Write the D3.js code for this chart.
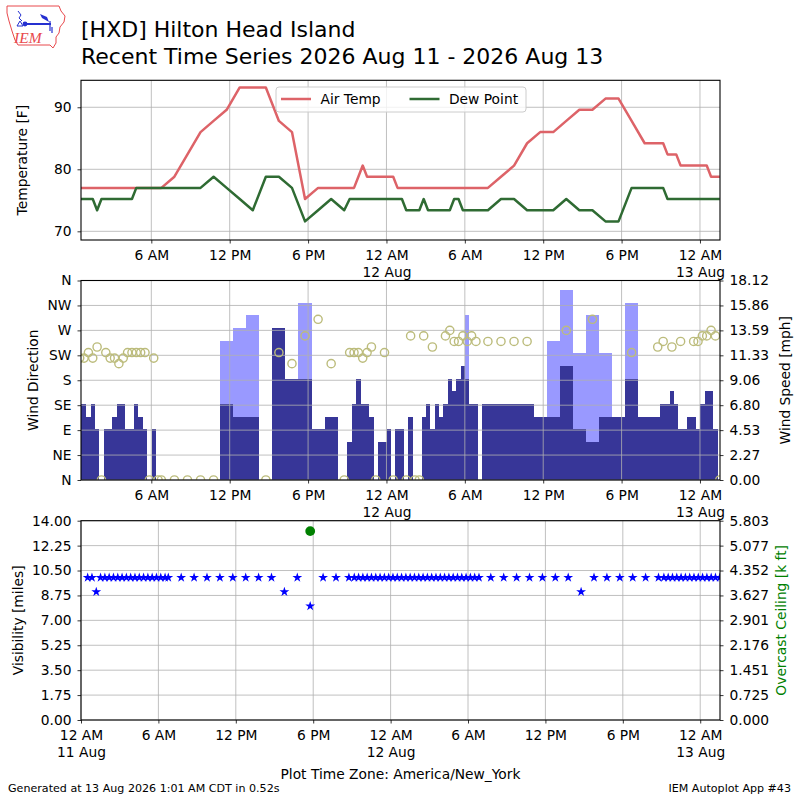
<!DOCTYPE html>
<html>
<head>
<meta charset="utf-8">
<script src="https://cdn.jsdelivr.net/npm/d3@7"></script>
<style>
  body { margin: 0; background: #fff; }
  svg text { font-family: "DejaVu Sans", sans-serif; }
</style>
</head>
<body>
<svg id="chart" width="800" height="800"></svg>
<script>
const _ = null;

// observation times, "day HH:MM" in August 2026, America/New_York
const obsTime = [
  // 11 Aug
  '11 00:31', '11 00:51', '11 01:11', '11 01:31', '11 01:51', '11 02:11', '11 02:31', '11 02:51',
  '11 03:11', '11 03:31', '11 03:51', '11 04:11', '11 04:31', '11 04:51', '11 05:11', '11 05:31',
  '11 05:51', '11 06:11', '11 06:31', '11 06:46', '11 07:46', '11 08:46', '11 09:46', '11 10:46',
  '11 11:46', '11 12:46', '11 13:46', '11 14:46', '11 15:46', '11 16:46', '11 17:46', '11 18:46',
  '11 19:46', '11 20:46', '11 21:11', '11 21:31', '11 21:51', '11 22:11', '11 22:31', '11 22:51',
  '11 23:11', '11 23:31', '11 23:51',
  // 12 Aug
  '12 00:11', '12 00:31', '12 00:51', '12 01:11', '12 01:31', '12 01:51', '12 02:11', '12 02:31',
  '12 02:51', '12 03:11', '12 03:31', '12 03:51', '12 04:11', '12 04:31', '12 04:51', '12 05:11',
  '12 05:31', '12 05:51', '12 06:11', '12 06:31', '12 06:51', '12 07:46', '12 08:46', '12 09:46',
  '12 10:46', '12 11:46', '12 12:46', '12 13:46', '12 14:46', '12 15:46', '12 16:46', '12 17:46',
  '12 18:46', '12 19:46', '12 20:46', '12 21:11', '12 21:31', '12 21:51', '12 22:11', '12 22:31',
  '12 22:51', '12 23:11', '12 23:31', '12 23:51',
  // 13 Aug
  '13 00:11', '13 00:31', '13 00:51', '13 01:11', '13 01:31'
];

// air temperature [F]
const airTemp = [
  77, 77, 77, 77, 77, 77, 77, 77,
  77, 77, 77, 77, 77, 77, 77, 77,
  77, 77, 77, 77, 78.8, 82.4, 86, 87.8,
  89.6, 93.2, 93.2, 93.2, 87.8, 86, 75.2, 77,
  77, 77, 77, 77, 78.8, 80.6, 78.8, 78.8,
  78.8, 78.8, 78.8,
  78.8, 78.8, 77, 77, 77, 77, 77, 77,
  77, 77, 77, 77, 77, 77, 77, 77,
  77, 77, 77, 77, 77, 77, 78.8, 80.6,
  84.2, 86, 86, 87.8, 89.6, 89.6, 91.4, 91.4,
  87.8, 84.2, 84.2, 84.2, 82.4, 82.4, 82.4, 80.6,
  80.6, 80.6, 80.6, 80.6,
  80.6, 80.6, 78.8, 78.8, 78.8
];

// dew point [F]
const dewPoint = [
  75.2, 75.2, 75.2, 75.2, 73.4, 75.2, 75.2, 75.2,
  75.2, 75.2, 75.2, 75.2, 75.2, 77, 77, 77,
  77, 77, 77, 77, 77, 77, 77, 78.8,
  77, 75.2, 73.4, 78.8, 78.8, 77, 71.6, 73.4,
  75.2, 73.4, 75.2, 75.2, 75.2, 75.2, 75.2, 75.2,
  75.2, 75.2, 75.2,
  75.2, 75.2, 75.2, 75.2, 73.4, 73.4, 73.4, 73.4,
  75.2, 73.4, 73.4, 73.4, 73.4, 73.4, 73.4, 75.2,
  75.2, 73.4, 73.4, 73.4, 73.4, 73.4, 75.2, 75.2,
  73.4, 73.4, 73.4, 75.2, 73.4, 73.4, 71.6, 71.6,
  77, 77, 77, 77, 75.2, 75.2, 75.2, 75.2,
  75.2, 75.2, 75.2, 75.2,
  75.2, 75.2, 75.2, 75.2, 75.2
];

// wind speed [kt]
const windSpeed = [
  6, 6, 5, 6, 4, 0, 4, 4,
  5, 6, 6, 4, 4, 6, 5, 4,
  0, 4, 0, 0, 0, 0, 0, 0,
  6, 5, 5, 0, 12, 8, 8, 4,
  5, 0, 3, 6, 8, 6, 6, 5,
  0, 3, 3,
  4, 0, 4, 4, 0, 5, 0, 0,
  5, 6, 4, 6, 5, 6, 8, 7,
  8, 9, 8, 6, 6, 6, 6, 6,
  6, 5, 5, 9, 4, 3, 5, 5,
  8, 5, 5, 6, 6, 7, 6, 4,
  4, 5, 5, 4,
  6, 7, 7, 4, 0
];

// wind gust [kt]
const windGust = [
  _, _, _, _, _, _, _, _,
  _, _, _, _, _, _, _, _,
  _, _, _, _, _, _, _, _,
  11, 12, 13, _, _, _, 14, _,
  _, _, _, _, _, _, _, _,
  _, _, _,
  _, _, _, _, _, _, _, _,
  _, _, _, _, _, _, _, _,
  _, _, 13, _, _, _, _, _,
  _, _, 11, 15, 10, 13, 10, _,
  14, _, _, _, _, _, _, _,
  _, _, _, _,
  _, _, _, _, _
];

// wind direction [deg], 0 when calm
const windDir = [
  220, 220, 230, 220, 240, 0, 230, 220,
  220, 210, 220, 230, 230, 230, 230, 230,
  0, 220, 0, 0, 0, 0, 0, 0,
  _, _, _, 0, 230, 210, 260, 290,
  210, 0, 230, 230, 230, 220, 230, 240,
  0, _, 230,
  _, 0, _, _, 0, 260, 0, 0,
  260, _, 240, _, _, 260, 270, 250,
  250, 260, 250, 260, 250, 250, 250, 250,
  250, _, _, 270, _, 290, _, _,
  230, _, 240, 250, _, 240, _, 250,
  _, _, 250, 250,
  260, 260, 270, 260, 0
];

// visibility [miles]
const visibility = [
  10, 10, 9, 10, 10, 10, 10, 10,
  10, 10, 10, 10, 10, 10, 10, 10,
  10, 10, 10, 10, 10, 10, 10, 10,
  10, 10, 10, 10, 9, 10, 8, 10,
  10, 10, 10, 10, 10, 10, 10, 10,
  10, 10, 10,
  10, 10, 10, 10, 10, 10, 10, 10,
  10, 10, 10, 10, 10, 10, 10, 10,
  10, 10, 10, 10, 10, 10, 10, 10,
  10, 10, 10, 10, 9, 10, 10, 10,
  10, 10, 10, 10, 10, 10, 10, 10,
  10, 10, 10, 10,
  10, 10, 10, 10, 10
];

// overcast ceiling [k ft]
const ceilingTime = ['11 17:46'];
const ceilingValue = [5.5];

// axis settings
const topStart = '11 00:37', bottomStart = '11 00:00', plotEnd = '13 01:32';
const tempLimits = [68.6, 94.35];
const tempTicks = [70, 80, 90];
const dirTicks = [0, 45, 90, 135, 180, 225, 270, 315, 360];
const dirLabels = ['N', 'NE', 'E', 'SE', 'S', 'SW', 'W', 'NW', 'N'];
const speedMax = 18.123;
const visTicks = [0, 1.75, 3.5, 5.25, 7, 8.75, 10.5, 12.25, 14];
const ceilingMax = 5.8028;

const KT_TO_MPH = 1.15078;
const X0 = 81, X1 = 720;
const P = {
  temp: { top: 80.3, bottom: 240 },
  wind: { top: 280.5, bottom: 480 },
  vis: { top: 520.7, bottom: 720 }
};
const FS = 13.8;
const GRID = '#b0b0b0';

const svg = d3.select('#chart');
const parseTime = s => d3.utcParse('%Y-%m-%d %H:%M')('2026-08-' + s);
const times = obsTime.map(parseTime);

const obs = times.map((t, i) => ({
  t,
  // bars are as wide as the gap to the previous report
  w: i === 0 ? times[1] - t : t - times[i - 1],
  tmpf: airTemp[i],
  dwpf: dewPoint[i],
  sknt: windSpeed[i],
  gust: windGust[i],
  drct: windDir[i],
  vsby: visibility[i]
}));

const xTop = d3.scaleUtc().domain([parseTime(topStart), parseTime(plotEnd)]).range([X0, X1]);
const xBot = d3.scaleUtc().domain([parseTime(bottomStart), parseTime(plotEnd)]).range([X0, X1]);
const yTemp = d3.scaleLinear().domain(tempLimits).range([P.temp.bottom, P.temp.top]);
const yDir = d3.scaleLinear().domain([0, 360]).range([P.wind.bottom, P.wind.top]);
const ySpeed = d3.scaleLinear().domain([0, speedMax]).range([P.wind.bottom, P.wind.top]);
const yVis = d3.scaleLinear().domain([0, 14]).range([P.vis.bottom, P.vis.top]);
const yCeil = d3.scaleLinear().domain([0, ceilingMax]).range([P.vis.bottom, P.vis.top]);

const fmtHour = d3.utcFormat('%-I %p');
const fmtDay = d3.utcFormat('%-d %b');
const sixHours = x => d3.utcHour.every(6).range(x.domain()[0], x.domain()[1]);

// clip paths, one per panel
const defs = svg.append('defs');
Object.entries(P).forEach(([k, p]) => {
  defs.append('clipPath').attr('id', `clip-${k}`)
    .append('rect').attr('x', X0).attr('y', p.top).attr('width', X1 - X0).attr('height', p.bottom - p.top);
});

function styleAxis(g) {
  g.attr('font-size', FS).attr('font-family', '"DejaVu Sans", sans-serif');
  g.select('.domain').remove();
  g.selectAll('.tick line').attr('stroke', '#000').attr('stroke-width', 0.8);
  g.selectAll('.tick text').attr('fill', '#000');
  return g;
}

function drawGrid(layer, x, y, yTicks, p) {
  layer.selectAll('line.gx').data(sixHours(x)).join('line').attr('class', 'gx')
    .attr('x1', d => x(d)).attr('x2', d => x(d)).attr('y1', p.top).attr('y2', p.bottom)
    .attr('stroke', GRID).attr('stroke-width', 0.8);
  layer.selectAll('line.gy').data(yTicks).join('line').attr('class', 'gy')
    .attr('x1', X0).attr('x2', X1).attr('y1', d => y(d)).attr('y2', d => y(d))
    .attr('stroke', GRID).attr('stroke-width', 0.8);
}

function drawXAxis(x, p) {
  const g = svg.append('g').attr('transform', `translate(0,${p.bottom})`)
    .call(d3.axisBottom(x).tickValues(sixHours(x)).tickFormat(fmtHour)
      .tickSize(3.5).tickSizeOuter(0).tickPadding(7));
  styleAxis(g);
  g.selectAll('.tick text').filter(d => d.getUTCHours() === 0)
    .append('tspan').attr('x', 0).attr('dy', '1.2em').text(fmtDay);
}

function drawFrame(p) {
  svg.append('rect').attr('x', X0).attr('y', p.top).attr('width', X1 - X0).attr('height', p.bottom - p.top)
    .attr('fill', 'none').attr('stroke', '#000').attr('stroke-width', 1.1);
}

function yLabel(text, x, p, color) {
  svg.append('text').attr('transform', `translate(${x},${(p.top + p.bottom) / 2}) rotate(-90)`)
    .attr('text-anchor', 'middle').attr('font-size', FS).attr('fill', color || '#000').text(text);
}

// ---- title and logo
const logo = svg.append('g');
logo.append('path')
  .attr('d', 'M7,6 L59,6 L61,11 L65,16 L64,22 L60,27 L59,33 L56,37 L56,43 L53,48 L50,45 L18,45 L15,40 L12,31 L9,21 L7,13 Z')
  .attr('fill', 'none').attr('stroke', '#e8494d').attr('stroke-width', 1);
logo.append('text').attr('x', 14).attr('y', 43).attr('font-size', 15.5)
  .attr('font-style', 'italic').style('font-family', '"Liberation Serif", serif')
  .attr('fill', '#e8494d').text('IEM');
logo.append('line').attr('x1', 24).attr('y1', 24).attr('x2', 51).attr('y2', 24)
  .attr('stroke', '#2530d0').attr('stroke-width', 2);
logo.append('circle').attr('cx', 25).attr('cy', 24).attr('r', 2.4).attr('fill', '#2530d0');
logo.append('path').attr('d', 'M18,11 L21,15 L19,18 L22,21').attr('fill', 'none')
  .attr('stroke', '#2530d0').attr('stroke-width', 1);
logo.append('path').attr('d', 'M17,26 L20,21 L23,26 Z').attr('fill', 'none')
  .attr('stroke', '#2530d0').attr('stroke-width', 1);
logo.append('path').attr('d', 'M40,14 L47,17 L49,22 L42,18 Z').attr('fill', '#2530d0');
logo.append('path').attr('d', 'M50,21 L50,31 M52,27 L52,33').attr('stroke', '#2530d0').attr('stroke-width', 1.2);

svg.append('text').attr('x', X0).attr('y', 36.5).attr('font-size', 22).text('[HXD] Hilton Head Island');
svg.append('text').attr('x', X0).attr('y', 64).attr('font-size', 22)
  .text('Recent Time Series 2026 Aug 11 - 2026 Aug 13');

// ---- panel 1: temperature
const g1 = svg.append('g');
drawGrid(g1, xTop, yTemp, tempTicks, P.temp);
const tempSeries = [
  { name: 'Air Temp', key: 'tmpf', color: '#dd6368' },
  { name: 'Dew Point', key: 'dwpf', color: '#2f6b33' }
];
const lines = g1.append('g').attr('clip-path', 'url(#clip-temp)');
tempSeries.forEach(s => {
  lines.append('path').datum(obs.filter(d => d[s.key] != null))
    .attr('d', d3.line().x(d => xTop(d.t)).y(d => yTemp(d[s.key])))
    .attr('fill', 'none').attr('stroke', s.color).attr('stroke-width', 2.5)
    .attr('stroke-linejoin', 'round');
});

// legend
const legend = svg.append('g');
legend.append('rect').attr('x', 276).attr('y', 87).attr('width', 250).attr('height', 25).attr('rx', 3)
  .attr('fill', '#fff').attr('fill-opacity', 0.8).attr('stroke', '#cccccc').attr('stroke-width', 1);
const legendX = [281, 409.5];
tempSeries.forEach((s, i) => {
  legend.append('line').attr('x1', legendX[i]).attr('x2', legendX[i] + 30).attr('y1', 99).attr('y2', 99)
    .attr('stroke', s.color).attr('stroke-width', 2.5);
  legend.append('text').attr('x', legendX[i] + 39.5).attr('y', 99).attr('dy', '0.35em')
    .attr('font-size', FS).text(s.name);
});

drawFrame(P.temp);
styleAxis(svg.append('g').attr('transform', `translate(${X0},0)`)
  .call(d3.axisLeft(yTemp).tickValues(tempTicks).tickSize(3.5).tickPadding(6)));
drawXAxis(xTop, P.temp);
yLabel('Temperature [F]', 26.5, P.temp);

// ---- panel 2: wind
const g2 = svg.append('g');
const bars = g2.append('g').attr('clip-path', 'url(#clip-wind)');
const barX = d => xTop(new Date(+d.t - d.w / 2));
const barW = d => xTop(new Date(+d.t + d.w / 2)) - xTop(new Date(+d.t - d.w / 2));
bars.selectAll('rect.gust').data(obs.filter(d => d.gust != null)).join('rect').attr('class', 'gust')
  .attr('x', barX).attr('width', barW)
  .attr('y', d => ySpeed(d.gust * KT_TO_MPH)).attr('height', d => P.wind.bottom - ySpeed(d.gust * KT_TO_MPH))
  .attr('fill', '#9999ff').attr('shape-rendering', 'crispEdges');
bars.selectAll('rect.sknt').data(obs.filter(d => d.sknt > 0)).join('rect').attr('class', 'sknt')
  .attr('x', barX).attr('width', barW)
  .attr('y', d => ySpeed(d.sknt * KT_TO_MPH)).attr('height', d => P.wind.bottom - ySpeed(d.sknt * KT_TO_MPH))
  .attr('fill', '#373698').attr('shape-rendering', 'crispEdges');
drawGrid(g2.append('g'), xTop, yDir, dirTicks, P.wind);
g2.append('g').attr('clip-path', 'url(#clip-wind)')
  .selectAll('circle').data(obs.filter(d => d.drct != null)).join('circle')
  .attr('cx', d => xTop(d.t)).attr('cy', d => yDir(d.drct)).attr('r', 4.1)
  .attr('fill', 'none').attr('stroke', '#bcbc7c').attr('stroke-width', 1.4);

drawFrame(P.wind);
styleAxis(svg.append('g').attr('transform', `translate(${X0},0)`)
  .call(d3.axisLeft(yDir).tickValues(dirTicks).tickFormat((d, i) => dirLabels[i]).tickSize(3.5).tickPadding(6)));
styleAxis(svg.append('g').attr('transform', `translate(${X1},0)`)
  .call(d3.axisRight(ySpeed).tickValues(d3.range(9).map(i => i * speedMax / 8))
    .tickFormat(d3.format('.2f')).tickSize(3.5).tickPadding(6)));
drawXAxis(xTop, P.wind);
yLabel('Wind Direction', 38, P.wind);
yLabel('Wind Speed [mph]', 790, P.wind);

// ---- panel 3: visibility and ceiling
const g3 = svg.append('g');
drawGrid(g3, xBot, yVis, visTicks, P.vis);
const marks = g3.append('g').attr('clip-path', 'url(#clip-vis)');
const star = d3.symbol(d3.symbolStar, 30);
marks.selectAll('path.vis').data(obs.filter(d => d.vsby != null)).join('path').attr('class', 'vis')
  .attr('d', star).attr('transform', d => `translate(${xBot(d.t)},${yVis(d.vsby)})`)
  .attr('fill', '#0000ff');
marks.selectAll('circle.ceil').data(ceilingTime.map((s, i) => ({ t: parseTime(s), v: ceilingValue[i] })))
  .join('circle').attr('class', 'ceil')
  .attr('cx', d => xBot(d.t)).attr('cy', d => yCeil(d.v)).attr('r', 4.9).attr('fill', '#008000');

drawFrame(P.vis);
styleAxis(svg.append('g').attr('transform', `translate(${X0},0)`)
  .call(d3.axisLeft(yVis).tickValues(visTicks).tickFormat(d3.format('.2f')).tickSize(3.5).tickPadding(6)));
styleAxis(svg.append('g').attr('transform', `translate(${X1},0)`)
  .call(d3.axisRight(yCeil).tickValues(d3.range(9).map(i => i * ceilingMax / 8))
    .tickFormat(d3.format('.3f')).tickSize(3.5).tickPadding(6)));
drawXAxis(xBot, P.vis);
yLabel('Visibility [miles]', 22.5, P.vis);
yLabel('Overcast Ceiling [k ft]', 786, P.vis, '#008000');

svg.append('text').attr('x', (X0 + X1) / 2).attr('y', 779).attr('text-anchor', 'middle')
  .attr('font-size', FS).text('Plot Time Zone: America/New_York');

// ---- footer
svg.append('text').attr('x', 8).attr('y', 792).attr('font-size', 11.1)
  .text('Generated at 13 Aug 2026 1:01 AM CDT in 0.52s');
svg.append('text').attr('x', 791).attr('y', 792).attr('text-anchor', 'end').attr('font-size', 11.1)
  .text('IEM Autoplot App #43');
</script>
</body>
</html>
